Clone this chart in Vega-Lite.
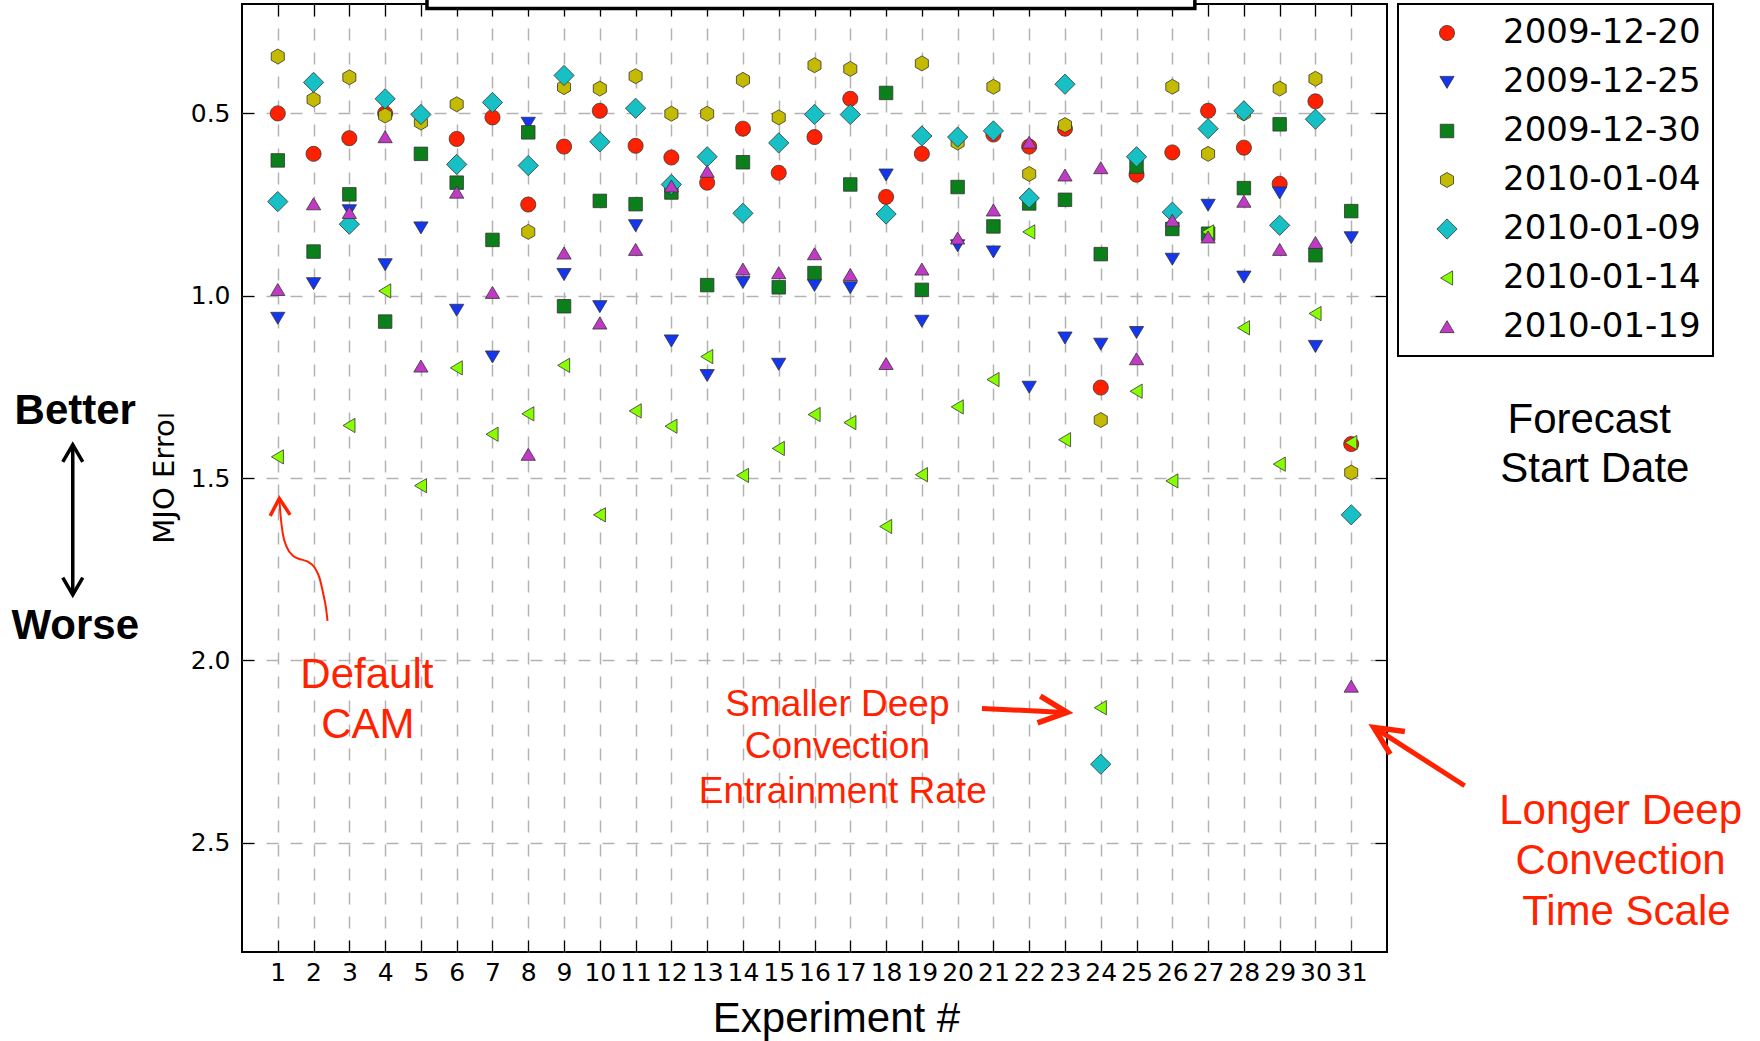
{
  "$schema": "https://vega.github.io/schema/vega-lite/v6.json",
  "width": 1145,
  "height": 948,
  "autosize": {"type": "none"},
  "padding": {"left": 242, "top": 4, "right": 373, "bottom": 89},
  "background": "white",
  "config": {
    "view": {"stroke": "black", "strokeWidth": 2},
    "axis": {
      "labelFont": "DejaVu Sans", "labelFontSize": 25, "labelColor": "black",
      "tickColor": "black", "tickWidth": 1.2, "tickSize": -12, "domain": false,
      "gridColor": "#b3b3b3", "gridDash": [12, 12], "gridWidth": 1.5, "gridOpacity": 1
    },
    "legend": {"strokeWidth": 2}
  },
  "datasets": {
    "errors": [
      {"experiment":1,"date":"2009-12-20","error":0.500},{"experiment":2,"date":"2009-12-20","error":0.611},{"experiment":3,"date":"2009-12-20","error":0.568},{"experiment":4,"date":"2009-12-20","error":0.500},{"experiment":6,"date":"2009-12-20","error":0.570},{"experiment":7,"date":"2009-12-20","error":0.511},{"experiment":8,"date":"2009-12-20","error":0.750},{"experiment":9,"date":"2009-12-20","error":0.591},{"experiment":10,"date":"2009-12-20","error":0.493},{"experiment":11,"date":"2009-12-20","error":0.589},{"experiment":12,"date":"2009-12-20","error":0.621},{"experiment":13,"date":"2009-12-20","error":0.690},{"experiment":14,"date":"2009-12-20","error":0.542},{"experiment":15,"date":"2009-12-20","error":0.663},{"experiment":16,"date":"2009-12-20","error":0.565},{"experiment":17,"date":"2009-12-20","error":0.460},{"experiment":18,"date":"2009-12-20","error":0.729},{"experiment":19,"date":"2009-12-20","error":0.611},{"experiment":21,"date":"2009-12-20","error":0.558},{"experiment":22,"date":"2009-12-20","error":0.591},{"experiment":23,"date":"2009-12-20","error":0.542},{"experiment":24,"date":"2009-12-20","error":1.252},{"experiment":25,"date":"2009-12-20","error":0.668},{"experiment":26,"date":"2009-12-20","error":0.607},{"experiment":27,"date":"2009-12-20","error":0.493},{"experiment":28,"date":"2009-12-20","error":0.594},{"experiment":29,"date":"2009-12-20","error":0.693},{"experiment":30,"date":"2009-12-20","error":0.467},{"experiment":31,"date":"2009-12-20","error":1.407},
      {"experiment":1,"date":"2009-12-25","error":1.061},{"experiment":2,"date":"2009-12-25","error":0.966},{"experiment":3,"date":"2009-12-25","error":0.766},{"experiment":4,"date":"2009-12-25","error":0.914},{"experiment":5,"date":"2009-12-25","error":0.813},{"experiment":6,"date":"2009-12-25","error":1.039},{"experiment":7,"date":"2009-12-25","error":1.167},{"experiment":8,"date":"2009-12-25","error":0.526},{"experiment":9,"date":"2009-12-25","error":0.941},{"experiment":10,"date":"2009-12-25","error":1.029},{"experiment":11,"date":"2009-12-25","error":0.807},{"experiment":12,"date":"2009-12-25","error":1.123},{"experiment":13,"date":"2009-12-25","error":1.218},{"experiment":14,"date":"2009-12-25","error":0.963},{"experiment":15,"date":"2009-12-25","error":1.187},{"experiment":16,"date":"2009-12-25","error":0.971},{"experiment":17,"date":"2009-12-25","error":0.977},{"experiment":18,"date":"2009-12-25","error":0.668},{"experiment":19,"date":"2009-12-25","error":1.069},{"experiment":20,"date":"2009-12-25","error":0.862},{"experiment":21,"date":"2009-12-25","error":0.879},{"experiment":22,"date":"2009-12-25","error":1.250},{"experiment":23,"date":"2009-12-25","error":1.115},{"experiment":24,"date":"2009-12-25","error":1.132},{"experiment":25,"date":"2009-12-25","error":1.100},{"experiment":26,"date":"2009-12-25","error":0.899},{"experiment":27,"date":"2009-12-25","error":0.751},{"experiment":28,"date":"2009-12-25","error":0.948},{"experiment":29,"date":"2009-12-25","error":0.717},{"experiment":30,"date":"2009-12-25","error":1.138},{"experiment":31,"date":"2009-12-25","error":0.840},
      {"experiment":1,"date":"2009-12-30","error":0.629},{"experiment":2,"date":"2009-12-30","error":0.879},{"experiment":3,"date":"2009-12-30","error":0.722},{"experiment":4,"date":"2009-12-30","error":1.071},{"experiment":5,"date":"2009-12-30","error":0.611},{"experiment":6,"date":"2009-12-30","error":0.690},{"experiment":7,"date":"2009-12-30","error":0.847},{"experiment":8,"date":"2009-12-30","error":0.552},{"experiment":9,"date":"2009-12-30","error":1.029},{"experiment":10,"date":"2009-12-30","error":0.740},{"experiment":11,"date":"2009-12-30","error":0.749},{"experiment":12,"date":"2009-12-30","error":0.717},{"experiment":13,"date":"2009-12-30","error":0.971},{"experiment":14,"date":"2009-12-30","error":0.634},{"experiment":15,"date":"2009-12-30","error":0.977},{"experiment":16,"date":"2009-12-30","error":0.938},{"experiment":17,"date":"2009-12-30","error":0.695},{"experiment":18,"date":"2009-12-30","error":0.444},{"experiment":19,"date":"2009-12-30","error":0.984},{"experiment":20,"date":"2009-12-30","error":0.702},{"experiment":21,"date":"2009-12-30","error":0.810},{"experiment":22,"date":"2009-12-30","error":0.747},{"experiment":23,"date":"2009-12-30","error":0.737},{"experiment":24,"date":"2009-12-30","error":0.886},{"experiment":25,"date":"2009-12-30","error":0.646},{"experiment":26,"date":"2009-12-30","error":0.817},{"experiment":27,"date":"2009-12-30","error":0.830},{"experiment":28,"date":"2009-12-30","error":0.705},{"experiment":29,"date":"2009-12-30","error":0.530},{"experiment":30,"date":"2009-12-30","error":0.889},{"experiment":31,"date":"2009-12-30","error":0.768},
      {"experiment":1,"date":"2010-01-04","error":0.344},{"experiment":2,"date":"2010-01-04","error":0.462},{"experiment":3,"date":"2010-01-04","error":0.401},{"experiment":4,"date":"2010-01-04","error":0.506},{"experiment":5,"date":"2010-01-04","error":0.525},{"experiment":6,"date":"2010-01-04","error":0.475},{"experiment":8,"date":"2010-01-04","error":0.825},{"experiment":9,"date":"2010-01-04","error":0.428},{"experiment":10,"date":"2010-01-04","error":0.432},{"experiment":11,"date":"2010-01-04","error":0.398},{"experiment":12,"date":"2010-01-04","error":0.501},{"experiment":13,"date":"2010-01-04","error":0.501},{"experiment":14,"date":"2010-01-04","error":0.408},{"experiment":15,"date":"2010-01-04","error":0.511},{"experiment":16,"date":"2010-01-04","error":0.368},{"experiment":17,"date":"2010-01-04","error":0.378},{"experiment":19,"date":"2010-01-04","error":0.363},{"experiment":20,"date":"2010-01-04","error":0.580},{"experiment":21,"date":"2010-01-04","error":0.427},{"experiment":22,"date":"2010-01-04","error":0.666},{"experiment":23,"date":"2010-01-04","error":0.532},{"experiment":24,"date":"2010-01-04","error":1.341},{"experiment":26,"date":"2010-01-04","error":0.427},{"experiment":27,"date":"2010-01-04","error":0.611},{"experiment":28,"date":"2010-01-04","error":0.500},{"experiment":29,"date":"2010-01-04","error":0.432},{"experiment":30,"date":"2010-01-04","error":0.405},{"experiment":31,"date":"2010-01-04","error":1.485},
      {"experiment":1,"date":"2010-01-09","error":0.742},{"experiment":2,"date":"2010-01-09","error":0.415},{"experiment":3,"date":"2010-01-09","error":0.804},{"experiment":4,"date":"2010-01-09","error":0.460},{"experiment":5,"date":"2010-01-09","error":0.503},{"experiment":6,"date":"2010-01-09","error":0.640},{"experiment":7,"date":"2010-01-09","error":0.470},{"experiment":8,"date":"2010-01-09","error":0.643},{"experiment":9,"date":"2010-01-09","error":0.396},{"experiment":10,"date":"2010-01-09","error":0.578},{"experiment":11,"date":"2010-01-09","error":0.486},{"experiment":12,"date":"2010-01-09","error":0.695},{"experiment":13,"date":"2010-01-09","error":0.619},{"experiment":14,"date":"2010-01-09","error":0.774},{"experiment":15,"date":"2010-01-09","error":0.581},{"experiment":16,"date":"2010-01-09","error":0.503},{"experiment":17,"date":"2010-01-09","error":0.503},{"experiment":18,"date":"2010-01-09","error":0.776},{"experiment":19,"date":"2010-01-09","error":0.562},{"experiment":20,"date":"2010-01-09","error":0.565},{"experiment":21,"date":"2010-01-09","error":0.548},{"experiment":22,"date":"2010-01-09","error":0.732},{"experiment":23,"date":"2010-01-09","error":0.420},{"experiment":24,"date":"2010-01-09","error":2.285},{"experiment":25,"date":"2010-01-09","error":0.619},{"experiment":26,"date":"2010-01-09","error":0.771},{"experiment":27,"date":"2010-01-09","error":0.542},{"experiment":28,"date":"2010-01-09","error":0.493},{"experiment":29,"date":"2010-01-09","error":0.807},{"experiment":30,"date":"2010-01-09","error":0.516},{"experiment":31,"date":"2010-01-09","error":1.601},
      {"experiment":1,"date":"2010-01-14","error":1.442},{"experiment":3,"date":"2010-01-14","error":1.356},{"experiment":4,"date":"2010-01-14","error":0.987},{"experiment":5,"date":"2010-01-14","error":1.521},{"experiment":6,"date":"2010-01-14","error":1.198},{"experiment":7,"date":"2010-01-14","error":1.380},{"experiment":8,"date":"2010-01-14","error":1.324},{"experiment":9,"date":"2010-01-14","error":1.191},{"experiment":10,"date":"2010-01-14","error":1.601},{"experiment":11,"date":"2010-01-14","error":1.316},{"experiment":12,"date":"2010-01-14","error":1.358},{"experiment":13,"date":"2010-01-14","error":1.167},{"experiment":14,"date":"2010-01-14","error":1.493},{"experiment":15,"date":"2010-01-14","error":1.419},{"experiment":16,"date":"2010-01-14","error":1.326},{"experiment":17,"date":"2010-01-14","error":1.348},{"experiment":18,"date":"2010-01-14","error":1.633},{"experiment":19,"date":"2010-01-14","error":1.491},{"experiment":20,"date":"2010-01-14","error":1.305},{"experiment":21,"date":"2010-01-14","error":1.230},{"experiment":22,"date":"2010-01-14","error":0.825},{"experiment":23,"date":"2010-01-14","error":1.395},{"experiment":24,"date":"2010-01-14","error":2.130},{"experiment":25,"date":"2010-01-14","error":1.262},{"experiment":26,"date":"2010-01-14","error":1.508},{"experiment":27,"date":"2010-01-14","error":0.825},{"experiment":28,"date":"2010-01-14","error":1.088},{"experiment":29,"date":"2010-01-14","error":1.462},{"experiment":30,"date":"2010-01-14","error":1.049},{"experiment":31,"date":"2010-01-14","error":1.403},
      {"experiment":1,"date":"2010-01-19","error":0.984},{"experiment":2,"date":"2010-01-19","error":0.749},{"experiment":3,"date":"2010-01-19","error":0.773},{"experiment":4,"date":"2010-01-19","error":0.565},{"experiment":5,"date":"2010-01-19","error":1.194},{"experiment":6,"date":"2010-01-19","error":0.717},{"experiment":7,"date":"2010-01-19","error":0.992},{"experiment":8,"date":"2010-01-19","error":1.436},{"experiment":9,"date":"2010-01-19","error":0.884},{"experiment":10,"date":"2010-01-19","error":1.076},{"experiment":11,"date":"2010-01-19","error":0.874},{"experiment":12,"date":"2010-01-19","error":0.700},{"experiment":13,"date":"2010-01-19","error":0.660},{"experiment":14,"date":"2010-01-19","error":0.928},{"experiment":15,"date":"2010-01-19","error":0.938},{"experiment":16,"date":"2010-01-19","error":0.886},{"experiment":17,"date":"2010-01-19","error":0.943},{"experiment":18,"date":"2010-01-19","error":1.187},{"experiment":19,"date":"2010-01-19","error":0.928},{"experiment":20,"date":"2010-01-19","error":0.843},{"experiment":21,"date":"2010-01-19","error":0.766},{"experiment":22,"date":"2010-01-19","error":0.580},{"experiment":23,"date":"2010-01-19","error":0.670},{"experiment":24,"date":"2010-01-19","error":0.650},{"experiment":25,"date":"2010-01-19","error":1.174},{"experiment":26,"date":"2010-01-19","error":0.794},{"experiment":27,"date":"2010-01-19","error":0.840},{"experiment":28,"date":"2010-01-19","error":0.742},{"experiment":29,"date":"2010-01-19","error":0.874},{"experiment":30,"date":"2010-01-19","error":0.855},{"experiment":31,"date":"2010-01-19","error":2.072}
    ],
    "notes": [
      {"group":"cam","label":"Default","x":3.49,"y":2.040},
      {"group":"cam","label":"CAM","x":3.52,"y":2.177},
      {"group":"timescale","label":"Longer Deep","x":38.53,"y":2.412},
      {"group":"timescale","label":"Convection","x":38.53,"y":2.550},
      {"group":"timescale","label":"Time Scale","x":38.69,"y":2.689},
      {"group":"entrainment","label":"Smaller Deep","x":16.64,"y":2.122},
      {"group":"entrainment","label":"Convection","x":16.64,"y":2.239},
      {"group":"entrainment","label":"Entrainment Rate","x":16.79,"y":2.362},
      {"group":"start","label":"Forecast","x":37.65,"y":1.340},
      {"group":"start","label":"Start Date","x":37.81,"y":1.476},
      {"group":"quality","label":"Better","x":-4.66,"y":1.316},
      {"group":"quality","label":"Worse","x":-4.66,"y":1.907}
    ],
    "arrows": [
      {"arrow":"quality","x":-4.73,"y":1.409,"x2":-4.73,"y2":1.820},
      {"arrow":"entrainment","x":20.68,"y":2.132,"x2":23.0,"y2":2.143},
      {"arrow":"timescale","x":34.17,"y":2.344,"x2":31.7,"y2":2.188}
    ],
    "heads": [
      {"head":"quality-top","x":-4.73,"y":1.409},
      {"head":"quality-bottom","x":-4.73,"y":1.820},
      {"head":"cam","x":1.042,"y":1.556},
      {"head":"entrainment","x":23.06,"y":2.143},
      {"head":"timescale","x":31.63,"y":2.184}
    ],
    "curve": [
      {"order":1,"x":1.042,"y":1.556},{"order":2,"x":1.082,"y":1.607},{"order":3,"x":1.138,"y":1.651},{"order":4,"x":1.249,"y":1.689},{"order":5,"x":1.434,"y":1.714},{"order":6,"x":1.669,"y":1.724},{"order":7,"x":1.853,"y":1.730},{"order":8,"x":2.040,"y":1.747},{"order":9,"x":2.166,"y":1.774},{"order":10,"x":2.278,"y":1.821},{"order":11,"x":2.348,"y":1.857},{"order":12,"x":2.390,"y":1.892}
    ],
    "box": [
      {"x":5.17,"x2":26.63,"y":0.212,"y2":-0.3}
    ],
    "cover": [
      {"x":-3.0,"x2":-1.55,"y":1.20,"y2":1.326}
    ]
  },
  "layer": [
    {
      "data": {"name": "errors"},
      "mark": {"type": "point", "filled": true, "size": 225, "stroke": "#333333", "strokeWidth": 0.8, "opacity": 1},
      "encoding": {
        "x": {"field": "experiment", "type": "quantitative",
          "scale": {"domain": [0, 32], "nice": false, "zero": false},
          "axis": {"orient": "bottom", "values": [1,2,3,4,5,6,7,8,9,10,11,12,13,14,15,16,17,18,19,20,21,22,23,24,25,26,27,28,29,30,31],
            "format": "d", "grid": true, "labelPadding": 20, "labelFlush": false, "labelOverlap": false,
            "title": "Experiment #", "titleFont": "Liberation Sans", "titleFontSize": 42, "titleFontWeight": "normal", "titleColor": "black",
            "titleX": 594, "titleY": 66, "titleBaseline": "middle", "titleAlign": "center"}},
        "y": {"field": "error", "type": "quantitative",
          "scale": {"domain": [0.2, 2.8], "reverse": true, "nice": false, "zero": false},
          "axis": {"orient": "left", "values": [0.5, 1, 1.5, 2, 2.5], "format": ".1f", "grid": true, "labelPadding": 24,
            "title": "MJO Error", "titleFont": "DejaVu Sans", "titleFontSize": 29, "titleFontWeight": "normal", "titleColor": "black",
            "titleX": -78, "titleY": 471, "titleAngle": 270, "titleBaseline": "middle", "titleAlign": "center"}},
        "color": {"field": "date", "type": "nominal",
          "scale": {"domain": ["2009-12-20","2009-12-25","2009-12-30","2010-01-04","2010-01-09","2010-01-14","2010-01-19"],
                    "range": ["#ff2000","#1536f0","#0b7f1a","#c4bb00","#17c0c4","#88ff00","#c03ac6"]},
          "legend": {"orient": "none", "legendX": 1156, "legendY": 0, "title": null,
            "labelFont": "DejaVu Sans", "labelFontSize": 34, "labelColor": "black", "labelLimit": 400,
            "symbolSize": 225, "symbolStrokeColor": "#333333", "symbolStrokeWidth": 0.8, "symbolOpacity": 1,
            "padding": 12, "rowPadding": 15, "symbolOffset": 20, "labelOffset": 39,
            "strokeColor": "black", "fillColor": "white"}},
        "shape": {"field": "date", "type": "nominal",
          "scale": {"domain": ["2009-12-20","2009-12-25","2009-12-30","2010-01-04","2010-01-09","2010-01-14","2010-01-19"],
                    "range": ["M1,0A1,1,0,1,1,-1,0A1,1,0,1,1,1,0Z",
                              "M-0.95,-0.75L0.95,-0.75L0,0.85Z",
                              "M-0.9,-0.9L0.9,-0.9L0.9,0.9L-0.9,0.9Z",
                              "M0,-1L0.87,-0.5L0.87,0.5L0,1L-0.87,0.5L-0.87,-0.5Z",
                              "M0,-1.35L1.35,0L0,1.35L-1.35,0Z",
                              "M-0.85,0L0.75,-0.95L0.75,0.95Z",
                              "M0,-0.85L0.95,0.75L-0.95,0.75Z"]}}
      }
    },
    {
      "data": {"name": "errors"},
      "mark": {"type": "point", "opacity": 0},
      "encoding": {
        "x": {"field": "experiment", "type": "quantitative",
          "scale": {"domain": [0, 32], "nice": false, "zero": false},
          "axis": {"orient": "top", "values": [1,2,3,4,5,6,7,8,9,10,11,12,13,14,15,16,17,18,19,20,21,22,23,24,25,26,27,28,29,30,31], "labels": false, "grid": false, "title": null}},
        "y": {"field": "error", "type": "quantitative",
          "scale": {"domain": [0.2, 2.8], "reverse": true, "nice": false, "zero": false},
          "axis": {"orient": "right", "values": [0.5, 1, 1.5, 2, 2.5], "labels": false, "grid": false, "title": null}}
      }
    },
    {
      "data": {"name": "box"},
      "mark": {"type": "rect", "fill": "white", "stroke": "black", "strokeWidth": 3.5},
      "encoding": {
        "x": {"field": "x", "type": "quantitative", "scale": {"domain": [0, 32], "nice": false, "zero": false}, "axis": null},
        "x2": {"field": "x2"},
        "y": {"field": "y", "type": "quantitative", "scale": {"domain": [0.2, 2.8], "reverse": true, "nice": false, "zero": false}, "axis": null},
        "y2": {"field": "y2"}
      }
    },
    {
      "data": {"name": "cover"},
      "mark": {"type": "rect", "fill": "white", "strokeWidth": 0},
      "encoding": {
        "x": {"field": "x", "type": "quantitative", "scale": {"domain": [0, 32], "nice": false, "zero": false}, "axis": null},
        "x2": {"field": "x2"},
        "y": {"field": "y", "type": "quantitative", "scale": {"domain": [0.2, 2.8], "reverse": true, "nice": false, "zero": false}, "axis": null},
        "y2": {"field": "y2"}
      }
    },
    {
      "data": {"name": "arrows"},
      "transform": [{"filter": "datum.arrow == 'quality'"}],
      "mark": {"type": "rule", "color": "black", "strokeWidth": 3.5},
      "encoding": {
        "x": {"field": "x", "type": "quantitative", "scale": {"domain": [0, 32], "nice": false, "zero": false}, "axis": null},
        "x2": {"field": "x2"},
        "y": {"field": "y", "type": "quantitative", "scale": {"domain": [0.2, 2.8], "reverse": true, "nice": false, "zero": false}, "axis": null},
        "y2": {"field": "y2"}
      }
    },
    {
      "data": {"name": "arrows"},
      "transform": [{"filter": "datum.arrow != 'quality'"}],
      "mark": {"type": "rule", "color": "#ff2200", "strokeWidth": 5},
      "encoding": {
        "x": {"field": "x", "type": "quantitative", "scale": {"domain": [0, 32], "nice": false, "zero": false}, "axis": null},
        "x2": {"field": "x2"},
        "y": {"field": "y", "type": "quantitative", "scale": {"domain": [0.2, 2.8], "reverse": true, "nice": false, "zero": false}, "axis": null},
        "y2": {"field": "y2"}
      }
    },
    {
      "data": {"name": "curve"},
      "mark": {"type": "line", "color": "#ff2200", "strokeWidth": 2, "interpolate": "monotone"},
      "encoding": {
        "x": {"field": "x", "type": "quantitative", "scale": {"domain": [0, 32], "nice": false, "zero": false}, "axis": null},
        "y": {"field": "y", "type": "quantitative", "scale": {"domain": [0.2, 2.8], "reverse": true, "nice": false, "zero": false}, "axis": null},
        "order": {"field": "order"}
      }
    },
    {
      "data": {"name": "heads"},
      "transform": [{"filter": "datum.head == 'quality-top'"}],
      "mark": {"type": "point", "shape": "M-1,1.7L0,0L1,1.7", "size": 400, "filled": false, "stroke": "black", "strokeWidth": 3.5, "strokeJoin": "miter", "angle": 0, "opacity": 1},
      "encoding": {
        "x": {"field": "x", "type": "quantitative", "scale": {"domain": [0, 32], "nice": false, "zero": false}, "axis": null},
        "y": {"field": "y", "type": "quantitative", "scale": {"domain": [0.2, 2.8], "reverse": true, "nice": false, "zero": false}, "axis": null}
      }
    },
    {
      "data": {"name": "heads"},
      "transform": [{"filter": "datum.head == 'quality-bottom'"}],
      "mark": {"type": "point", "shape": "M-1,1.7L0,0L1,1.7", "size": 400, "filled": false, "stroke": "black", "strokeWidth": 3.5, "strokeJoin": "miter", "angle": 180, "opacity": 1},
      "encoding": {
        "x": {"field": "x", "type": "quantitative", "scale": {"domain": [0, 32], "nice": false, "zero": false}, "axis": null},
        "y": {"field": "y", "type": "quantitative", "scale": {"domain": [0.2, 2.8], "reverse": true, "nice": false, "zero": false}, "axis": null}
      }
    },
    {
      "data": {"name": "heads"},
      "transform": [{"filter": "datum.head == 'cam'"}],
      "mark": {"type": "point", "shape": "M-1,1.7L0,0L1,1.7", "size": 400, "filled": false, "stroke": "#ff2200", "strokeWidth": 3.5, "strokeJoin": "miter", "angle": -3, "opacity": 1},
      "encoding": {
        "x": {"field": "x", "type": "quantitative", "scale": {"domain": [0, 32], "nice": false, "zero": false}, "axis": null},
        "y": {"field": "y", "type": "quantitative", "scale": {"domain": [0.2, 2.8], "reverse": true, "nice": false, "zero": false}, "axis": null}
      }
    },
    {
      "data": {"name": "heads"},
      "transform": [{"filter": "datum.head == 'entrainment'"}],
      "mark": {"type": "point", "shape": "M-1,2.1L0,0L1,2.1", "size": 729, "filled": false, "stroke": "#ff2200", "strokeWidth": 5.5, "strokeJoin": "miter", "angle": 96, "opacity": 1},
      "encoding": {
        "x": {"field": "x", "type": "quantitative", "scale": {"domain": [0, 32], "nice": false, "zero": false}, "axis": null},
        "y": {"field": "y", "type": "quantitative", "scale": {"domain": [0.2, 2.8], "reverse": true, "nice": false, "zero": false}, "axis": null}
      }
    },
    {
      "data": {"name": "heads"},
      "transform": [{"filter": "datum.head == 'timescale'"}],
      "mark": {"type": "point", "shape": "M-1,2.1L0,0L1,2.1", "size": 729, "filled": false, "stroke": "#ff2200", "strokeWidth": 5.5, "strokeJoin": "miter", "angle": -57, "opacity": 1},
      "encoding": {
        "x": {"field": "x", "type": "quantitative", "scale": {"domain": [0, 32], "nice": false, "zero": false}, "axis": null},
        "y": {"field": "y", "type": "quantitative", "scale": {"domain": [0.2, 2.8], "reverse": true, "nice": false, "zero": false}, "axis": null}
      }
    },
    {
      "data": {"name": "notes"},
      "transform": [{"filter": "datum.group == 'cam' || datum.group == 'timescale'"}],
      "mark": {"type": "text", "font": "Liberation Sans", "fontSize": 42, "color": "#ff2200", "align": "center", "baseline": "middle"},
      "encoding": {
        "x": {"field": "x", "type": "quantitative", "scale": {"domain": [0, 32], "nice": false, "zero": false}, "axis": null},
        "y": {"field": "y", "type": "quantitative", "scale": {"domain": [0.2, 2.8], "reverse": true, "nice": false, "zero": false}, "axis": null},
        "text": {"field": "label"}
      }
    },
    {
      "data": {"name": "notes"},
      "transform": [{"filter": "datum.group == 'entrainment'"}],
      "mark": {"type": "text", "font": "Liberation Sans", "fontSize": 37, "color": "#ff2200", "align": "center", "baseline": "middle"},
      "encoding": {
        "x": {"field": "x", "type": "quantitative", "scale": {"domain": [0, 32], "nice": false, "zero": false}, "axis": null},
        "y": {"field": "y", "type": "quantitative", "scale": {"domain": [0.2, 2.8], "reverse": true, "nice": false, "zero": false}, "axis": null},
        "text": {"field": "label"}
      }
    },
    {
      "data": {"name": "notes"},
      "transform": [{"filter": "datum.group == 'start'"}],
      "mark": {"type": "text", "font": "Liberation Sans", "fontSize": 42, "color": "black", "align": "center", "baseline": "middle"},
      "encoding": {
        "x": {"field": "x", "type": "quantitative", "scale": {"domain": [0, 32], "nice": false, "zero": false}, "axis": null},
        "y": {"field": "y", "type": "quantitative", "scale": {"domain": [0.2, 2.8], "reverse": true, "nice": false, "zero": false}, "axis": null},
        "text": {"field": "label"}
      }
    },
    {
      "data": {"name": "notes"},
      "transform": [{"filter": "datum.group == 'quality'"}],
      "mark": {"type": "text", "font": "Liberation Sans", "fontSize": 42, "fontWeight": "bold", "color": "black", "align": "center", "baseline": "middle"},
      "encoding": {
        "x": {"field": "x", "type": "quantitative", "scale": {"domain": [0, 32], "nice": false, "zero": false}, "axis": null},
        "y": {"field": "y", "type": "quantitative", "scale": {"domain": [0.2, 2.8], "reverse": true, "nice": false, "zero": false}, "axis": null},
        "text": {"field": "label"}
      }
    }
  ],
  "resolve": {"axis": {"x": "independent", "y": "independent"}}
}
